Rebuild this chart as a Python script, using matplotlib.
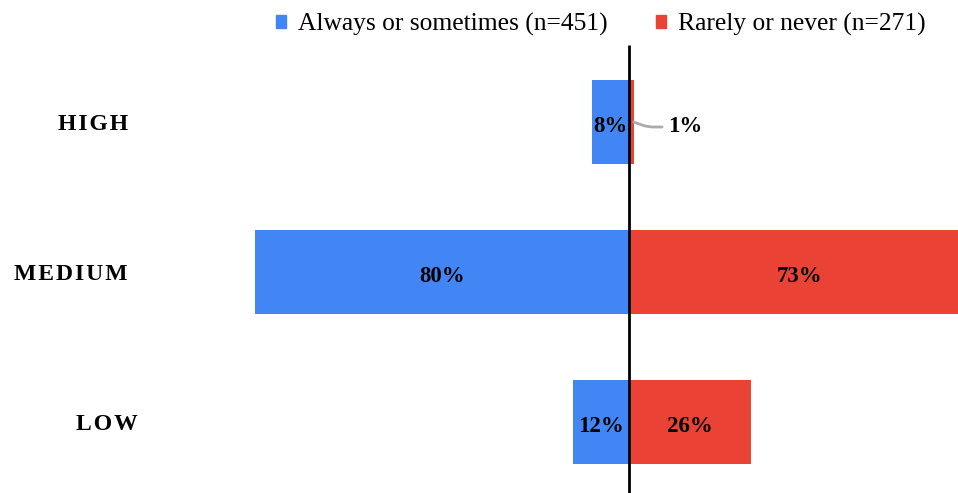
import matplotlib.pyplot as plt
from matplotlib.patches import Patch

# data
LEVELS = ["HIGH", "MEDIUM", "LOW"]
ALWAYS = [8, 80, 12]      # % always or sometimes (n=451)
RARELY = [1, 73, 26]      # % rarely or never (n=271)
LEGEND = ["Always or sometimes (n=451)", "Rarely or never (n=271)"]

BLUE = "#4285F4"
RED = "#EA4335"
W, H, DPI = 958, 493, 100
PX = 4.675                 # pixels per percent
LABEL_RIGHT = [128, 128, 138]  # right edge of each row label, pixels


def spaced(word):
    return "\u200a".join(word)


def main():
    plt.rcParams["font.family"] = ["Liberation Serif", "DejaVu Serif"]
    fig = plt.figure(figsize=(W / DPI, H / DPI), dpi=DPI)
    left_px = 140
    ax = fig.add_axes([left_px / W, 0, 1 - left_px / W, 1])

    ax.set_xlim((left_px - 629) / PX, (W - 629) / PX)
    ax.set_ylim((H - 122) / 150, -122 / 150)

    ys = list(range(len(LEVELS)))
    ax.barh(ys, [-v for v in ALWAYS], height=0.56, color=BLUE)
    ax.barh(ys, RARELY, height=0.56, color=RED)
    ax.vlines(0, (45 - 122) / 150, (H - 122) / 150, color="black", lw=2)

    lab = dict(fontsize=16.5, fontweight="bold", va="center", ha="center")
    for y, a, r in zip(ys, ALWAYS, RARELY):
        ax.text(-a / 2, y + 0.03, f"{a}%", **lab)
        if r >= 5:
            ax.text(r / 2, y + 0.03, f"{r}%", **lab)
        else:
            ax.annotate(
                f"{r}%", xy=(r, y), xytext=(34, -5), textcoords="offset pixels",
                fontsize=16.5, fontweight="bold", va="center", ha="left",
                arrowprops=dict(arrowstyle="-", color="#aaaaaa", lw=2,
                                shrinkA=2, shrinkB=0,
                                connectionstyle="angle,angleA=0,angleB=160,rad=6"),
            )

    # row labels, letter-spaced
    trans = ax.get_yaxis_transform()
    for y, name, right in zip(ys, LEVELS, LABEL_RIGHT):
        ax.text((right - left_px) / (W - left_px), y + 0.015, spaced(name),
                transform=trans, ha="right", va="center",
                fontsize=17, fontweight="bold", clip_on=False)

    ax.set_xticks([])
    ax.set_yticks([])
    for s in ax.spines.values():
        s.set_visible(False)

    handles = [Patch(color=BLUE), Patch(color=RED)]
    fig.legend(handles, LEGEND, loc="upper center", bbox_to_anchor=(0.627, 1.02),
               ncol=2, frameon=False, fontsize=18.4, handlelength=0.4,
               handleheight=0.4, handletextpad=0.45, columnspacing=1.9)

    fig.savefig("out.png", dpi=DPI)


if __name__ == "__main__":
    main()
